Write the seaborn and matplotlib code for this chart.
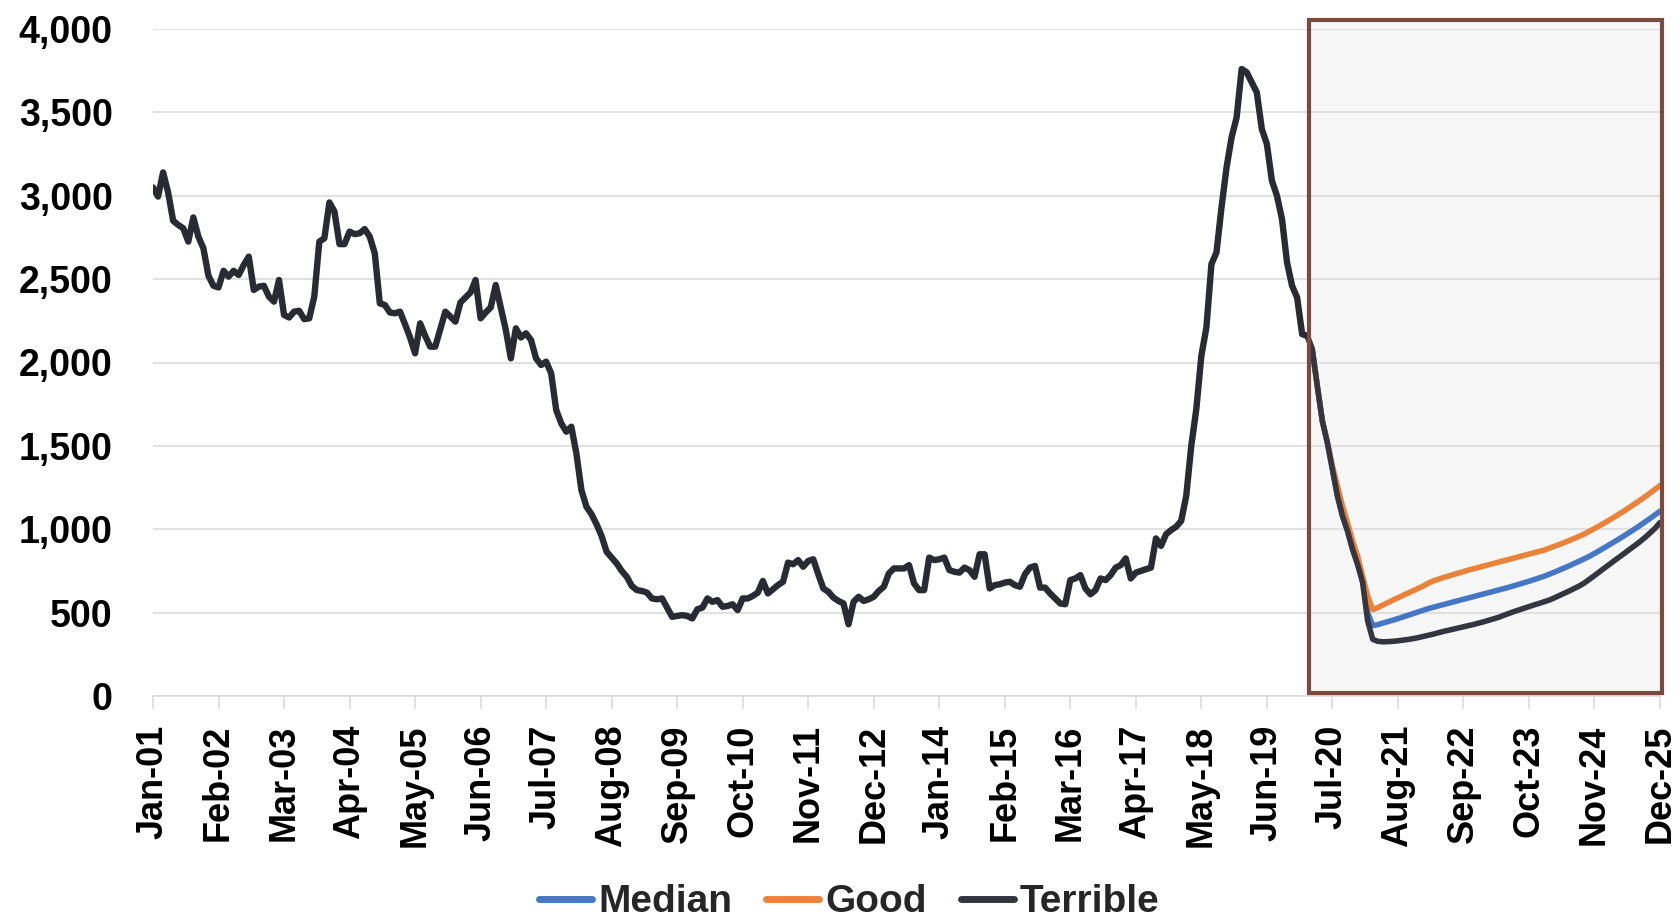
import matplotlib
matplotlib.use("Agg")
import matplotlib.pyplot as plt
import matplotlib.patches as mpatches
from matplotlib.lines import Line2D
from matplotlib import font_manager
import numpy as np
import seaborn as sns

# ---- data -------------------------------------------------------------
# monthly history, Jan-01 .. Feb-20
history = [
    3050, 2995, 3140, 3020, 2850, 2825, 2805, 2725, 2870, 2755,
    2685, 2520, 2460, 2450, 2550, 2515, 2550, 2525, 2585, 2635,
    2435, 2455, 2460, 2395, 2365, 2495, 2285, 2270, 2305, 2310,
    2260, 2265, 2395, 2725, 2745, 2960, 2905, 2710, 2710, 2785,
    2770, 2775, 2800, 2755, 2655, 2355, 2345, 2300, 2295, 2305,
    2230, 2150, 2055, 2235, 2160, 2095, 2095, 2200, 2305, 2275,
    2245, 2360, 2390, 2420, 2495, 2265, 2300, 2330, 2465, 2330,
    2195, 2025, 2205, 2150, 2175, 2135, 2025, 1985, 2005, 1935,
    1715, 1635, 1585, 1615, 1455, 1235, 1135, 1090, 1030, 960,
    865, 830, 795, 750, 715, 660, 635, 630, 620, 585,
    580, 585, 530, 475, 480, 485, 480, 465, 520, 530,
    585, 565, 575, 535, 540, 550, 515, 585, 585, 600,
    620, 690, 615, 640, 665, 685, 800, 790, 815, 775,
    810, 820, 730, 645, 625, 590, 570, 555, 430, 565,
    595, 570, 580, 595, 630, 655, 735, 765, 765, 765,
    785, 675, 635, 635, 830, 815, 820, 830, 755, 745,
    740, 770, 755, 715, 850, 850, 645, 665, 670, 680,
    685, 665, 655, 730, 770, 780, 650, 650, 615, 585,
    555, 550, 695, 705, 725, 645, 610, 635, 705, 695,
    725, 770, 785, 825, 705, 740, 750, 760, 770, 945,
    900, 970, 995, 1015, 1050, 1200, 1500, 1720, 2040, 2210,
    2590, 2660, 2930, 3170, 3350, 3470, 3760, 3740, 3680, 3620,
    3400, 3310, 3090, 3000, 2860, 2600, 2460, 2390, 2170, 2160,
]

# scenario paths, Feb-20 .. Dec-25
median = [
    2160, 2080, 1860, 1650, 1520, 1360, 1200, 1080, 990, 880, 790, 690, 500, 422,
    428, 437, 446, 455, 464, 474, 484, 494, 504, 514,
    524, 532, 540, 548, 556, 564, 572, 580, 588, 596,
    604, 612, 620, 628, 636, 644, 652, 661, 670, 679,
    688, 698, 708, 718, 730, 742, 755, 768, 781, 795,
    809, 823, 838, 855, 872, 890, 908, 926, 944, 963,
    982, 1002, 1022, 1043, 1064, 1086, 1108,
]
good = [
    2160, 2080, 1860, 1650, 1520, 1380, 1260, 1140, 1040, 930, 840, 720, 600, 518,
    530, 545, 560, 575, 589, 603, 617, 631, 645, 659,
    676, 690, 700, 710, 719, 728, 737, 746, 755, 763,
    771, 779, 787, 795, 803, 811, 819, 827, 835, 843,
    851, 859, 867, 875, 886, 897, 908, 920, 932, 945,
    958, 972, 988, 1004, 1021, 1038, 1056, 1074, 1093, 1112,
    1132, 1152, 1173, 1194, 1216, 1239, 1262,
]
terrible = [
    2160, 2080, 1860, 1650, 1520, 1360, 1200, 1080, 990, 880, 790, 680, 450, 340,
    328, 325, 326, 328, 331, 335, 339, 344, 350, 357,
    364, 371, 379, 387, 394, 401, 408, 415, 422, 429,
    437, 445, 454, 463, 472, 484, 495, 506, 516, 526,
    536, 546, 555, 565, 575, 588, 602, 616, 630, 645,
    660, 678, 700, 722, 745, 768, 790, 813, 835, 857,
    880, 902, 925, 950, 977, 1005, 1040,
]

series_names = ["Median", "Good", "Terrible"]
x_tick_labels = [
    "Jan-01", "Feb-02", "Mar-03", "Apr-04", "May-05", "Jun-06", "Jul-07",
    "Aug-08", "Sep-09", "Oct-10", "Nov-11", "Dec-12", "Jan-14", "Feb-15",
    "Mar-16", "Apr-17", "May-18", "Jun-19", "Jul-20", "Aug-21", "Sep-22",
    "Oct-23", "Nov-24", "Dec-25",
]
y_ticks = [0, 500, 1000, 1500, 2000, 2500, 3000, 3500, 4000]
y_tick_labels = ["0", "500", "1,000", "1,500", "2,000", "2,500", "3,000", "3,500", "4,000"]

# ---- styling ----------------------------------------------------------
COL_MEDIAN = "#4677C6"
COL_GOOD = "#EB823A"
COL_TERRIBLE = "#35353F"
COL_HIST = "#2A2A33"
COL_GRID = "#D9D9D9"
COL_BOX = "#7B4A3E"

sns.set_theme(style="white")
plt.rcParams["font.family"] = ["Liberation Sans", "DejaVu Sans"]

installed = {f.name for f in font_manager.fontManager.ttflist}
if "Liberation Sans Narrow" in installed:
    legend_family = ["Liberation Sans Narrow", "DejaVu Sans"]
    legend_size = 33
else:
    legend_family = ["Liberation Sans", "DejaVu Sans"]
    legend_size = 28

W, H = 1680, 924
fig = plt.figure(figsize=(W / 100, H / 100), dpi=100)
x_left, x_right, y_top, y_bottom = 153, 1660, 29, 696
ax = fig.add_axes([x_left / W, 1 - y_bottom / H, (x_right - x_left) / W, (y_bottom - y_top) / H])

n_total = len(history) + len(median) - 1
hist_x = np.arange(len(history))
fc_x = np.arange(len(history) - 1, n_total)

# shaded outlook window (fill under the grid, frame above the lines)
win_x0, win_y0 = 229.4, 15
win_w, win_h = (n_total - 1) + 0.4 - win_x0, 4040
ax.add_patch(mpatches.Rectangle((win_x0, win_y0), win_w, win_h, facecolor="#F7F7F7",
                                edgecolor="none", zorder=0.2, clip_on=False))

sns.lineplot(x=fc_x, y=median, ax=ax, color=COL_MEDIAN, linewidth=4.0,
             estimator=None, sort=False, zorder=2)
sns.lineplot(x=fc_x, y=good, ax=ax, color=COL_GOOD, linewidth=4.0,
             estimator=None, sort=False, zorder=2.1)
sns.lineplot(x=fc_x, y=terrible, ax=ax, color=COL_TERRIBLE, linewidth=4.0,
             estimator=None, sort=False, zorder=2.2)
sns.lineplot(x=hist_x, y=history, ax=ax, color=COL_HIST, linewidth=4.6,
             estimator=None, sort=False, zorder=2.3)

ax.add_patch(mpatches.Rectangle((win_x0, win_y0), win_w, win_h, facecolor="none",
                                edgecolor=COL_BOX, linewidth=3.0, zorder=5,
                                clip_on=False, joinstyle="miter"))

ax.set_xlim(0, n_total - 1)
ax.set_ylim(0, 4000)
ax.set_xlabel("")
ax.set_ylabel("")

ax.set_xticks(np.arange(0, n_total, 13))
ax.set_xticklabels(x_tick_labels, rotation=90, fontsize=26, fontweight="bold",
                   family=["Liberation Sans", "DejaVu Sans"])
ax.set_yticks(y_ticks)
ax.set_yticklabels(y_tick_labels, fontsize=27, fontweight="bold",
                   family=["Liberation Sans", "DejaVu Sans"])

ax.set_axisbelow(True)
ax.yaxis.grid(True, color=COL_GRID, linewidth=1.1)
ax.xaxis.grid(False)
for side in ("top", "right", "left"):
    ax.spines[side].set_visible(False)
ax.spines["bottom"].set_color(COL_GRID)
ax.spines["bottom"].set_linewidth(1.1)
ax.tick_params(axis="x", bottom=True, length=9.4, width=1.1, color=COL_GRID,
               pad=11, labelcolor="black")
ax.tick_params(axis="y", left=False, length=0, pad=29, labelcolor="black")

# legend, kept fully inside the canvas
size_px = legend_size * 100 / 72
handles = [Line2D([0], [0], color=c, linewidth=5.0, solid_capstyle="round")
           for c in (COL_MEDIAN, COL_GOOD, COL_TERRIBLE)]
fig.legend(handles, series_names, loc="lower center", bbox_to_anchor=(0.5057, 0.004),
           ncol=3, frameon=False, borderpad=0, borderaxespad=0,
           handlelength=53 / size_px, handletextpad=6 / size_px,
           columnspacing=34 / size_px,
           prop={"family": legend_family, "weight": "bold", "size": legend_size})

fig.savefig("out.png", dpi=100, facecolor="white")
